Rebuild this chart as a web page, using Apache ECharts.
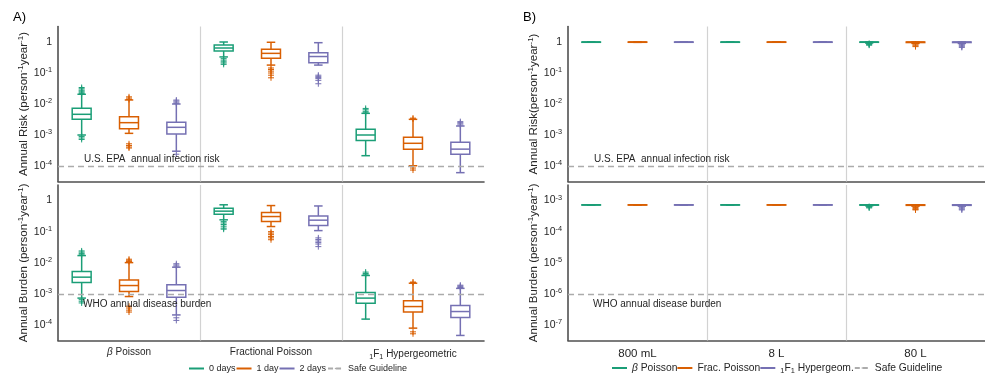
<!DOCTYPE html>
<html><head><meta charset="utf-8">
<script src="https://cdn.jsdelivr.net/npm/echarts@6/dist/echarts.min.js"></script>
<style>html,body{margin:0;padding:0;background:#fff}#c{width:985px;height:375px}</style>
</head><body><div id="c"></div>
<script>
// ---------- data ----------
const groupsA = ['β Poisson', 'Fractional Poisson', '₁F₁ Hypergeometric'];
const volumesB = ['800 mL', '8 L', '80 L'];
const seriesA = ['0 days', '1 day', '2 days'];
const seriesB = ['β Poisson', 'Frac. Poisson', '₁F₁ Hypergeom.'];
const guideName = 'Safe Guideline';
const riskGuide = 1e-4;
const burdenGuideA = 1e-3;
const burdenGuideB = 1e-6;
const riskNote = 'U.S. EPA  annual infection risk';
const burdenNote = 'WHO annual disease burden';

// box stats per group: [whiskerLow, q1, median, q3, whiskerHigh]
const riskA_0days = [[0.001, 0.0032, 0.00465, 0.00726, 0.0206], [0.33, 0.51, 0.64, 0.80, 1.0], [2.15e-4, 6.6e-4, 0.001, 0.00153, 0.005]];
const riskA_1day = [[0.00113, 0.0016, 0.0025, 0.0039, 0.0135], [0.18, 0.30, 0.43, 0.58, 0.98], [1.02e-4, 3.46e-4, 5.4e-4, 8.4e-4, 0.0032]];
const riskA_2days = [[3.0e-4, 0.00107, 0.00177, 0.0026, 0.01], [0.18, 0.215, 0.34, 0.45, 0.95], [6.1e-5, 2.4e-4, 3.5e-4, 5.8e-4, 0.00195]];
const riskA_0daysOut = [[0.022, 0.024, 0.026, 0.028, 0.031, 0.034, 9.0e-4, 8.0e-4, 7.2e-4], [0.29, 0.26, 0.23, 0.21, 0.19], [0.0052, 0.0058, 0.0065, 0.0072]];
const riskA_1dayOut = [[0.014, 0.0155, 0.017, 5.2e-4, 4.6e-4, 4.1e-4, 3.8e-4], [0.145, 0.13, 0.115, 0.10, 0.085, 0.07], [0.0033, 0.0035, 8.6e-5, 7.4e-5]];
const riskA_2daysOut = [[0.0105, 0.0115, 0.0125, 0.0134, 2.4e-4], [0.085, 0.078, 0.072, 0.066, 0.058, 0.045], [0.0021, 0.0023, 0.0025, 0.0027]];

const burdenA_0days = [[7.3e-4, 0.0023, 0.00344, 0.0052, 0.017], [0.24, 0.365, 0.456, 0.57, 0.73], [1.54e-4, 5.0e-4, 7.3e-4, 0.0011, 0.0039]];
const burdenA_1day = [[8.2e-4, 0.00119, 0.00185, 0.0028, 0.0101], [0.146, 0.211, 0.306, 0.41, 0.69], [7.9e-5, 2.6e-4, 3.9e-4, 6.0e-4, 0.0022]];
const burdenA_2days = [[2.1e-4, 7.8e-4, 0.00128, 0.00195, 0.0072], [0.108, 0.157, 0.234, 0.32, 0.67], [4.6e-5, 1.73e-4, 2.7e-4, 4.2e-4, 0.0015]];
const burdenA_0daysOut = [[0.018, 0.02, 0.022, 0.024, 6.5e-4, 5.8e-4, 5.1e-4], [0.21, 0.19, 0.17, 0.15, 0.13, 0.12], [0.0041, 0.0045, 0.005]];
const burdenA_1dayOut = [[0.011, 0.012, 0.013, 4.0e-4, 3.5e-4, 3.0e-4, 2.6e-4], [0.1, 0.09, 0.08, 0.07, 0.063, 0.055], [0.0023, 0.0024, 6.0e-5, 5.2e-5]];
const burdenA_2daysOut = [[0.0078, 0.0085, 0.0093, 1.7e-4, 1.4e-4], [0.063, 0.056, 0.05, 0.045, 0.04, 0.033], [0.0016, 0.0017, 0.0018, 0.0019]];

const riskB_beta = [[0.99, 0.995, 1, 1, 1], [1, 1, 1, 1, 1], [0.93, 0.98, 0.995, 1, 1]];
const riskB_frac = [[0.975, 0.995, 1, 1, 1], [1, 1, 1, 1, 1], [0.9, 0.96, 0.99, 1, 1]];
const riskB_hyp = [[0.98, 0.995, 1, 1, 1], [1, 1, 1, 1, 1], [0.9, 0.96, 0.99, 1, 1]];
const riskB_betaOut = [[], [], [0.9, 0.86, 0.82, 0.79]];
const riskB_fracOut = [[], [], [0.86, 0.8, 0.75, 0.71]];
const riskB_hypOut = [[], [], [0.85, 0.8, 0.75, 0.7, 0.67]];

const burdenB_beta = [[7.2e-4, 7.28e-4, 7.3e-4, 7.3e-4, 7.3e-4], [7.3e-4, 7.3e-4, 7.3e-4, 7.3e-4, 7.3e-4], [6.8e-4, 7.1e-4, 7.25e-4, 7.3e-4, 7.3e-4]];
const burdenB_frac = [[7.1e-4, 7.25e-4, 7.3e-4, 7.3e-4, 7.3e-4], [7.3e-4, 7.3e-4, 7.3e-4, 7.3e-4, 7.3e-4], [6.6e-4, 7.0e-4, 7.2e-4, 7.3e-4, 7.3e-4]];
const burdenB_hyp = [[7.15e-4, 7.27e-4, 7.3e-4, 7.3e-4, 7.3e-4], [7.3e-4, 7.3e-4, 7.3e-4, 7.3e-4, 7.3e-4], [6.6e-4, 7.0e-4, 7.2e-4, 7.3e-4, 7.3e-4]];
const burdenB_betaOut = [[], [], [6.4e-4, 6.1e-4, 5.8e-4]];
const burdenB_fracOut = [[], [], [6.0e-4, 5.6e-4, 5.2e-4, 5.0e-4]];
const burdenB_hypOut = [[], [], [6.1e-4, 5.7e-4, 5.3e-4, 5.0e-4]];

// ---------- styles ----------
const FONT = '"Liberation Sans", Arial, Helvetica, sans-serif';
const TXT = '#262626';
const AXIS = '#505050';
const GUIDE = '#ababab';
const SEP = '#d2d2d2';
const colors = ['#1b9e77', '#d95f02', '#7570b3'];

function richify(s) {
  let out = '', buf = '';
  const flush = () => { if (buf) { out += '{b|' + buf + '}'; buf = ''; } };
  for (const ch of s) {
    if (ch === 'β') { flush(); out += '{it|β}'; }
    else if (ch === '₁') { flush(); out += '{sub|1}'; }
    else buf += ch;
  }
  flush();
  return out;
}
function richStyles(fs) {
  return {
    b: { fontSize: fs, fontFamily: FONT, color: TXT },
    it: { fontSize: fs, fontFamily: FONT, color: TXT, fontStyle: 'italic' },
    sub: { fontSize: fs * 0.72, fontFamily: FONT, color: TXT, padding: [fs * 0.6, 0, 0, 0] },
    sup: { fontSize: fs * 0.7, fontFamily: FONT, color: TXT, padding: [0, 0, fs * 0.5, 0] }
  };
}
function logLabel(v) {
  const l = Math.log10(v), e = Math.round(l);
  if (Math.abs(l - e) > 1e-6) return '';
  if (e === 0) return '{b|1}';
  return '{b|10}{sup|' + e + '}';
}

const grids = [
  { left: 58, top: 26.5, width: 426, height: 155 },
  { left: 58, top: 185, width: 426, height: 155.5 },
  { left: 568, top: 26.5, width: 426, height: 155 },
  { left: 568, top: 185, width: 426, height: 155.5 }
];
const yRanges = [[-4.5, 0.5], [-4.5, 0.5], [-4.5, 0.5], [-7.5, -2.5]];
const yNames = [
  '{b|Annual Risk (person}{sup|-1}{b|year}{sup|-1}{b|)}',
  '{b|Annual Burden (person}{sup|-1}{b|year}{sup|-1}{b|)}',
  '{b|Annual Risk(person}{sup|-1}{b|year}{sup|-1}{b|)}',
  '{b|Annual Burden (person}{sup|-1}{b|year}{sup|-1}{b|)}'
];
const xCats = [groupsA, groupsA, volumesB, volumesB];
const xLabelSize = [10, 10, 11.5, 11.5];

const xAxis = [], yAxis = [];
grids.forEach((g, i) => {
  const showLab = (i === 1 || i === 3);
  xAxis.push({
    type: 'category', gridIndex: i, data: xCats[i], position: 'bottom', boundaryGap: true,
    axisLine: { lineStyle: { color: AXIS, width: 1.6 } },
    axisTick: { alignWithLabel: true, inside: true, length: 4, lineStyle: { color: AXIS, width: 1.2 } },
    axisLabel: { show: showLab, interval: 0, hideOverlap: false, margin: 7, formatter: v => richify(v), rich: richStyles(xLabelSize[i]) },
    splitLine: { show: false }
  });
  xAxis.push({ type: 'value', gridIndex: i, min: 0, max: 9, show: false, position: 'top' });
  yAxis.push({
    type: 'log', logBase: 10, gridIndex: i,
    min: Math.pow(10, yRanges[i][0]), max: Math.pow(10, yRanges[i][1]),
    axisLine: { show: true, lineStyle: { color: AXIS, width: 1.6 } },
    axisTick: { show: false },
    splitLine: { show: false },
    axisLabel: { formatter: logLabel, margin: 6, rich: richStyles(10.5) },
    name: yNames[i], nameLocation: 'middle', nameGap: i >= 2 ? 26 : 23,
    nameTextStyle: { rich: richStyles(11.5) }
  });
});

function boxRenderer(outs, color) {
  return function (params, api) {
    const x = api.value(0);
    const v = [1, 2, 3, 4, 5].map(d => api.value(d));
    const cx = api.coord([x, v[2]])[0];
    const half = api.coord([x + 0.2, v[2]])[0] - cx;
    const cap = half * 0.45;
    const y = v.map(val => api.coord([x, val])[1]);
    const ls = { stroke: color, lineWidth: 1.5, fill: null };
    const ch = [
      { type: 'line', shape: { x1: cx, y1: y[4], x2: cx, y2: y[3] }, style: ls },
      { type: 'line', shape: { x1: cx, y1: y[1], x2: cx, y2: y[0] }, style: ls },
      { type: 'line', shape: { x1: cx - cap, y1: y[4], x2: cx + cap, y2: y[4] }, style: ls },
      { type: 'line', shape: { x1: cx - cap, y1: y[0], x2: cx + cap, y2: y[0] }, style: ls },
      { type: 'rect', shape: { x: cx - half, y: y[3], width: 2 * half, height: Math.max(y[1] - y[3], 0.3) }, style: { stroke: color, lineWidth: 1.5, fill: 'rgba(255,255,255,0)' } },
      { type: 'line', shape: { x1: cx - half, y1: y[2], x2: cx + half, y2: y[2] }, style: ls }
    ];
    (outs[params.dataIndex] || []).forEach(o => {
      const oy = api.coord([x, o])[1], s = 3;
      ch.push({ type: 'line', shape: { x1: cx - s, y1: oy, x2: cx + s, y2: oy }, style: { stroke: color, lineWidth: 1 } });
      ch.push({ type: 'line', shape: { x1: cx, y1: oy - s, x2: cx, y2: oy + s }, style: { stroke: color, lineWidth: 1 } });
    });
    return { type: 'group', children: ch };
  };
}

const panels = [
  { names: seriesA, stats: [riskA_0days, riskA_1day, riskA_2days], outs: [riskA_0daysOut, riskA_1dayOut, riskA_2daysOut], guide: riskGuide, note: riskNote, pos: 'insideStartTop', dist: 2, padL: 24 },
  { names: seriesA, stats: [burdenA_0days, burdenA_1day, burdenA_2days], outs: [burdenA_0daysOut, burdenA_1dayOut, burdenA_2daysOut], guide: burdenGuideA, note: burdenNote, pos: 'insideStartBottom', dist: 5, padL: 20 },
  { names: seriesB, stats: [riskB_beta, riskB_frac, riskB_hyp], outs: [riskB_betaOut, riskB_fracOut, riskB_hypOut], guide: riskGuide, note: riskNote, pos: 'insideStartTop', dist: 2, padL: 24 },
  { names: seriesB, stats: [burdenB_beta, burdenB_frac, burdenB_hyp], outs: [burdenB_betaOut, burdenB_fracOut, burdenB_hypOut], guide: burdenGuideB, note: burdenNote, pos: 'insideStartBottom', dist: 5, padL: 20 }
];

const series = [];
panels.forEach((p, gi) => {
  series.push({
    type: 'line', name: guideName, xAxisIndex: gi * 2 + 1, yAxisIndex: gi, data: [],
    symbol: 'none', lineStyle: { color: GUIDE, type: [5, 3], width: 1.3 }, itemStyle: { color: GUIDE },
    markLine: {
      silent: true, symbol: ['none', 'none'], animation: false, precision: 12,
      data: [
        { xAxis: 3, lineStyle: { color: SEP, type: 'solid', width: 1.2 }, label: { show: false } },
        { xAxis: 6, lineStyle: { color: SEP, type: 'solid', width: 1.2 }, label: { show: false } },
        { yAxis: p.guide, lineStyle: { color: GUIDE, type: [6, 4], width: 1.3 },
          label: { show: true, position: p.pos, distance: p.dist, formatter: p.note, padding: [0, 0, 0, p.padL],
                   fontSize: 10, fontFamily: FONT, color: TXT } }
      ]
    }
  });
  p.names.forEach((n, k) => {
    series.push({
      type: 'custom', name: n, xAxisIndex: gi * 2 + 1, yAxisIndex: gi,
      itemStyle: { color: colors[k] },
      encode: { x: 0, y: [1, 2, 3, 4, 5] },
      data: p.stats[k].map((s, g) => [g * 3 + k + 0.5].concat(s)),
      renderItem: boxRenderer(p.outs[k], colors[k])
    });
  });
});

const option = {
  animation: false,
  backgroundColor: '#fff',
  textStyle: { fontFamily: FONT },
  title: [
    { text: 'A)', left: 8, top: 6, textStyle: { fontSize: 13, fontWeight: 'normal', color: '#000', fontFamily: FONT } },
    { text: 'B)', left: 518, top: 6, textStyle: { fontSize: 13, fontWeight: 'normal', color: '#000', fontFamily: FONT } }
  ],
  grid: grids,
  xAxis, yAxis,
  legend: [
    { data: seriesA.map(n => ({ name: n, icon: 'rect' })).concat([{ name: guideName }]),
      left: 184, top: 359, itemWidth: 15, itemHeight: 2, itemGap: 1, selectedMode: false,
      formatter: n => richify(n), textStyle: { fontSize: 9, color: TXT, fontFamily: FONT, rich: richStyles(9) } },
    { data: seriesB.map(n => ({ name: n, icon: 'rect' })).concat([{ name: guideName }]),
      left: 607, top: 358, itemWidth: 15, itemHeight: 2, itemGap: 0, selectedMode: false,
      formatter: n => richify(n), textStyle: { fontSize: 10.3, color: TXT, fontFamily: FONT, rich: richStyles(10.3) } }
  ],
  series
};
const chart = echarts.init(document.getElementById('c'), null, { renderer: 'canvas' });
chart.setOption(option);
</script></body></html>
